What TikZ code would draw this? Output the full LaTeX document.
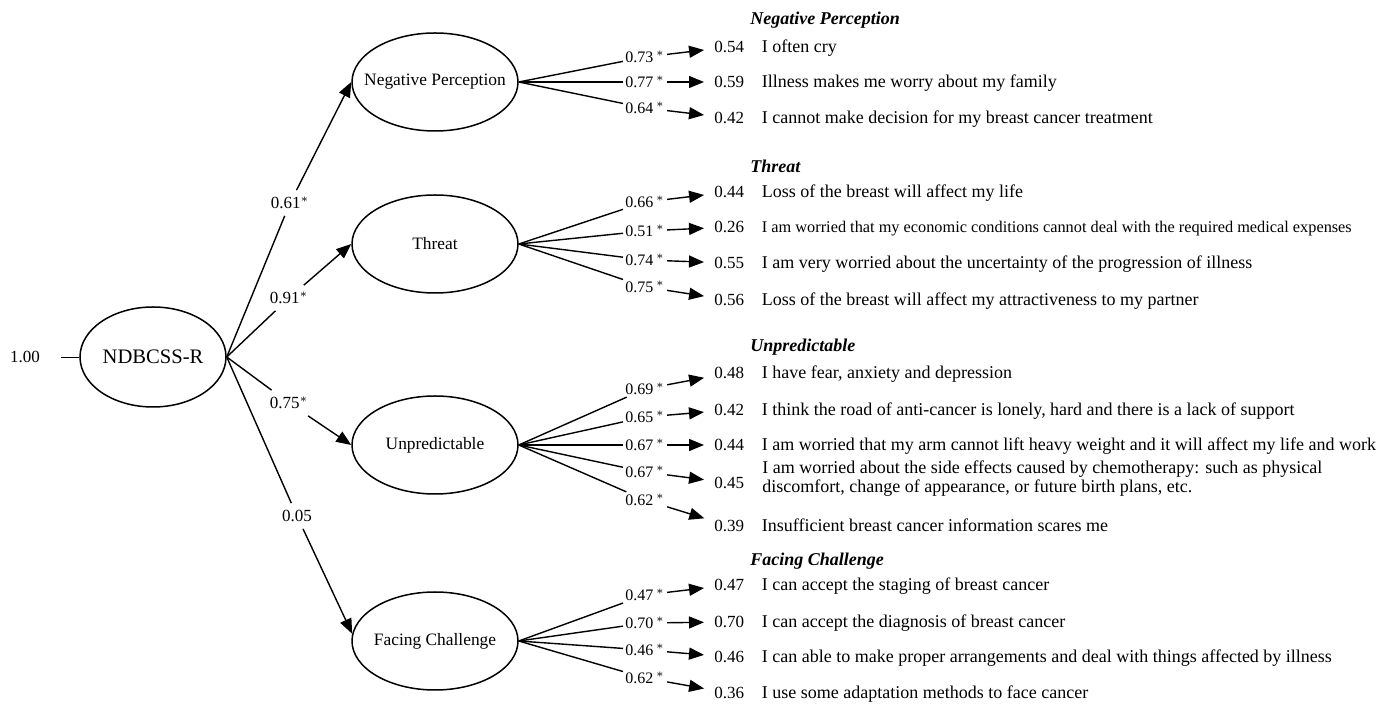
\documentclass[tikz,border=0pt]{standalone}
\usepackage{fontspec}
\setmainfont{Liberation Serif}
\usetikzlibrary{arrows.meta,positioning,shapes.geometric}

\begin{document}
\begin{tikzpicture}[x=0.5pt,y=-0.5pt,font=\fontsize{9}{11}\selectfont,
        lat/.style={draw,ellipse,line width=0.75pt,minimum width=83pt,minimum height=49pt,inner sep=0pt,
          label={[font=\fontsize{8.7}{10}\selectfont]center:#1}},
        cf/.style={font=\fontsize{8.5}{10}\selectfont},
        w/.style={anchor=west,inner sep=1pt,font=\fontsize{8}{9}\selectfont},
        r/.style={anchor=west,inner sep=1pt,text height=1.5ex,text depth=.4ex,font=\fontsize{8.5}{10}\selectfont},
        t/.style={right=7.5pt of #1,inner sep=0pt,text height=1.5ex,text depth=.4ex},
        hd/.style={anchor=west,inner sep=0pt,font=\fontsize{9}{11}\selectfont\bfseries\itshape},
        l/.style={line width=0.7pt},
        a/.style={-{Triangle[length=7.5pt,width=6pt]},line width=0.7pt},
        ia/.style={a,shorten >=4pt}]
        \useasboundingbox (0,0) rectangle (1386,704);
        % latent variables
        \node[draw,ellipse,line width=0.75pt,minimum width=73pt,minimum height=50pt,inner sep=0pt,
          font=\fontsize{10.3}{12}\selectfont] (nd) at (153,357) {NDBCSS-R};
        \node[cf] (one) at (25,357) {1.00};
        \draw[thin] (one.east) -- (nd.west) [shorten <=7pt];
        \node[lat=Negative Perception] (np) at (435,82) {};
        \node[lat=Threat] (th) at (435,244) {};
        \node[lat=Unpredictable] (un) at (435,445) {};
        \node[lat=Facing Challenge] (fc) at (435,641) {};
        \node[cf] (c1) at (290,203) {0.61$^*$};
        \node[cf] (c2) at (289,298) {0.91$^*$};
        \node[cf] (c3) at (289,403) {0.75$^*$};
        \node[cf] (c4) at (297,516) {0.05};
        \draw[l] (nd.east) -- (c1); \draw[a] (c1) -- (np.west);
        \draw[l] (nd.east) -- (c2); \draw[a] (c2) -- (th.west);
        \draw[l] (nd.east) -- (c3); \draw[a] (c3) -- (un.west);
        \draw[l] (nd.east) -- (c4); \draw[a] (c4) -- (fc.175);
        % headings
        \node[hd] (h1) at (750,20) {Negative Perception};
        \node[hd] (h2) at (750,166) {Threat};
        \node[hd] (h3) at (750,347) {Unpredictable};
        \node[hd] (h4) at (750,561) {Facing Challenge};
        % negative perception
        \node[w] (w11) at (623,57) {0.73\,$^*$}; \node[r] (r11) at (712,47) {0.54};
        \node[t=r11] (t11) {I often cry};
        \node[w] (w12) at (623,82) {0.77\,$^*$}; \node[r] (r12) at (712,82) {0.59};
        \node[t=r12] (t12) {Illness makes me worry about my family};
        \node[w] (w13) at (623,108) {0.64\,$^*$}; \node[r] (r13) at (712,118) {0.42};
        \node[t=r13] (t13) {I cannot make decision for my breast cancer treatment};
        \draw[l] (np.east) -- (w11); \draw[ia] (w11) -- (r11);
        \draw[l] (np.east) -- (w12); \draw[ia] (w12) -- (r12);
        \draw[l] (np.east) -- (w13); \draw[ia] (w13) -- (r13);
        % threat
        \node[w] (w21) at (623,202) {0.66\,$^*$}; \node[r] (r21) at (712,192) {0.44};
        \node[t=r21] (t21) {Loss of the breast will affect my life};
        \node[w] (w22) at (623,231) {0.51\,$^*$}; \node[r] (r22) at (712,227) {0.26};
        \node[t=r22,font=\fontsize{8.15}{10}\selectfont] (t22) {I am worried that my economic conditions cannot deal with the required medical expenses};
        \node[w] (w23) at (623,260) {0.74\,$^*$}; \node[r] (r23) at (712,263) {0.55};
        \node[t=r23] (t23) {I am very worried about the uncertainty of the progression of illness};
        \node[w] (w24) at (623,287) {0.75\,$^*$}; \node[r] (r24) at (712,300) {0.56};
        \node[t=r24] (t24) {Loss of the breast will affect my attractiveness to my partner};
        \draw[l] (th.east) -- (w21); \draw[ia] (w21) -- (r21);
        \draw[l] (th.east) -- (w22); \draw[ia] (w22) -- (r22);
        \draw[l] (th.east) -- (w23); \draw[ia] (w23) -- (r23);
        \draw[l] (th.east) -- (w24); \draw[ia] (w24) -- (r24);
        % unpredictable
        \node[w] (w31) at (623,389) {0.69\,$^*$}; \node[r] (r31) at (712,373) {0.48};
        \node[t=r31] (t31) {I have fear, anxiety and depression};
        \node[w] (w32) at (623,417) {0.65\,$^*$}; \node[r] (r32) at (712,410) {0.42};
        \node[t=r32] (t32) {I think the road of anti-cancer is lonely, hard and there is a lack of support};
        \node[w] (w33) at (623,445) {0.67\,$^*$}; \node[r] (r33) at (712,445) {0.44};
        \node[t=r33] (t33) {I am worried that my arm cannot lift heavy weight and it will affect my life and work};
        \node[w] (w34) at (623,472) {0.67\,$^*$}; \node[r] (r34) at (712,483) {0.45};
        \node[anchor=west,inner sep=0pt,align=left,font=\fontsize{9}{9.4}\selectfont] (t34) at (762,479)
          {I am worried about the side effects caused by chemotherapy: such as physical\\discomfort, change of appearance, or future birth plans, etc.};
        \node[w] (w35) at (623,500) {0.62\,$^*$}; \node[r] (r35) at (712,526) {0.39};
        \node[t=r35] (t35) {Insufficient breast cancer information scares me};
        \draw[l] (un.east) -- (w31); \draw[ia] (w31) -- (r31);
        \draw[l] (un.east) -- (w32); \draw[ia] (w32) -- (r32);
        \draw[l] (un.east) -- (w33); \draw[ia] (w33) -- (r33);
        \draw[l] (un.east) -- (w34); \draw[ia] (w34) -- (r34);
        \draw[l] (un.east) -- (w35); \draw[ia] (w35) -- (r35);
        % facing challenge
        \node[w] (w41) at (623,595) {0.47\,$^*$}; \node[r] (r41) at (712,585) {0.47};
        \node[t=r41] (t41) {I can accept the staging of breast cancer};
        \node[w] (w42) at (623,623) {0.70\,$^*$}; \node[r] (r42) at (712,622) {0.70};
        \node[t=r42] (t42) {I can accept the diagnosis of breast cancer};
        \node[w] (w43) at (623,650) {0.46\,$^*$}; \node[r] (r43) at (712,657) {0.46};
        \node[t=r43] (t43) {I can able to make proper arrangements and deal with things affected by illness};
        \node[w] (w44) at (623,678) {0.62\,$^*$}; \node[r] (r44) at (712,693) {0.36};
        \node[t=r44] (t44) {I use some adaptation methods to face cancer};
        \draw[l] (fc.east) -- (w41); \draw[ia] (w41) -- (r41);
        \draw[l] (fc.east) -- (w42); \draw[ia] (w42) -- (r42);
        \draw[l] (fc.east) -- (w43); \draw[ia] (w43) -- (r43);
        \draw[l] (fc.east) -- (w44); \draw[ia] (w44) -- (r44);
      \end{tikzpicture}
\end{document}
